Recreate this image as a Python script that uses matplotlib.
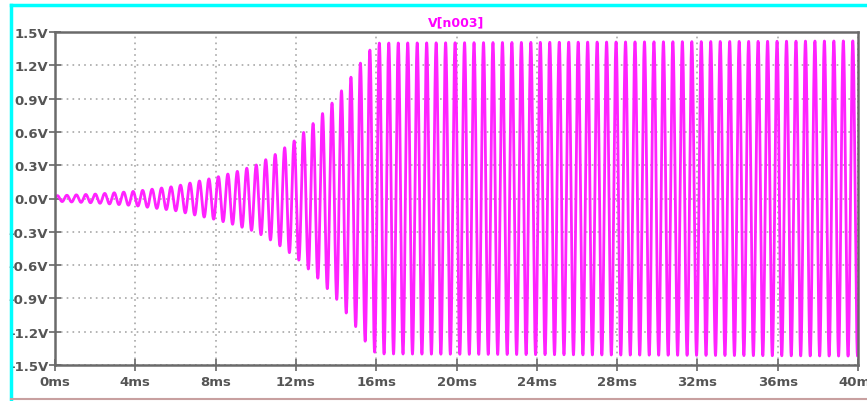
import numpy as np
import matplotlib
matplotlib.use("Agg")
import matplotlib.pyplot as plt
from matplotlib.lines import Line2D

# envelope of the oscillation (time in ms, peak in V)
env_t_ms = [0, 2, 4, 6, 8, 9, 10, 11, 12, 13, 14, 15, 15.5, 16, 40]
env_v = [0.025, 0.04, 0.065, 0.11, 0.19, 0.24, 0.30, 0.40, 0.53, 0.70, 0.90, 1.16, 1.30, 1.40, 1.42]
osc_freq_hz = 2120.0

x_ticks = [0, 4, 8, 12, 16, 20, 24, 28, 32, 36, 40]
x_labels = [f"{v}ms" for v in x_ticks]
y_ticks = [-1.5, -1.2, -0.9, -0.6, -0.3, 0.0, 0.3, 0.6, 0.9, 1.2, 1.5]
y_labels = [f"{v:.1f}V" for v in y_ticks]
trace_name = "V[n003]"

t = np.linspace(0, 40, 40001)
amp = np.interp(t, env_t_ms, env_v)
v = amp * np.sin(2 * np.pi * osc_freq_hz * t / 1000.0)

fig = plt.figure(figsize=(8.67, 4.02), dpi=100)
ax = fig.add_axes([55 / 867, 36 / 402, (858 - 55) / 867, (369 - 36) / 402])

ax.plot(t, v, color='#ff22ff', linewidth=2.0)

ax.set_xlim(0, 40)
ax.set_ylim(-1.5, 1.5)
ax.set_xticks(x_ticks)
ax.set_xticklabels(x_labels)
ax.set_yticks(y_ticks)
ax.set_yticklabels(y_labels)
ax.grid(True, color='#a8a8a8', linestyle=(0, (1, 2.5)), linewidth=1.2)

for lab in ax.get_xticklabels() + ax.get_yticklabels():
    lab.set_fontweight('bold')
    lab.set_color('#555555')
    lab.set_fontsize(9.5)
ax.tick_params(axis='both', direction='inout', length=8, width=1.2, color='#666666')
ax.tick_params(axis='x', pad=3)
ax.tick_params(axis='y', pad=1)
for s in ax.spines.values():
    s.set_color('#6a6a6a')
    s.set_linewidth(1.8)

ax.set_title(trace_name, color='#ff00ff', fontsize=9, fontweight='bold', pad=5)

# screenshot frame lines
fig.add_artist(Line2D([11 / 867, 1], [1 - 6 / 402, 1 - 6 / 402], color='#00ffff', linewidth=2.5))
fig.add_artist(Line2D([11 / 867, 11 / 867], [0, 1 - 6 / 402], color='#00ffff', linewidth=2.5))
fig.add_artist(Line2D([11 / 867, 1], [2 / 402, 2 / 402], color='#c8a0a0', linewidth=1.5))

fig.savefig("out.png", dpi=100)
